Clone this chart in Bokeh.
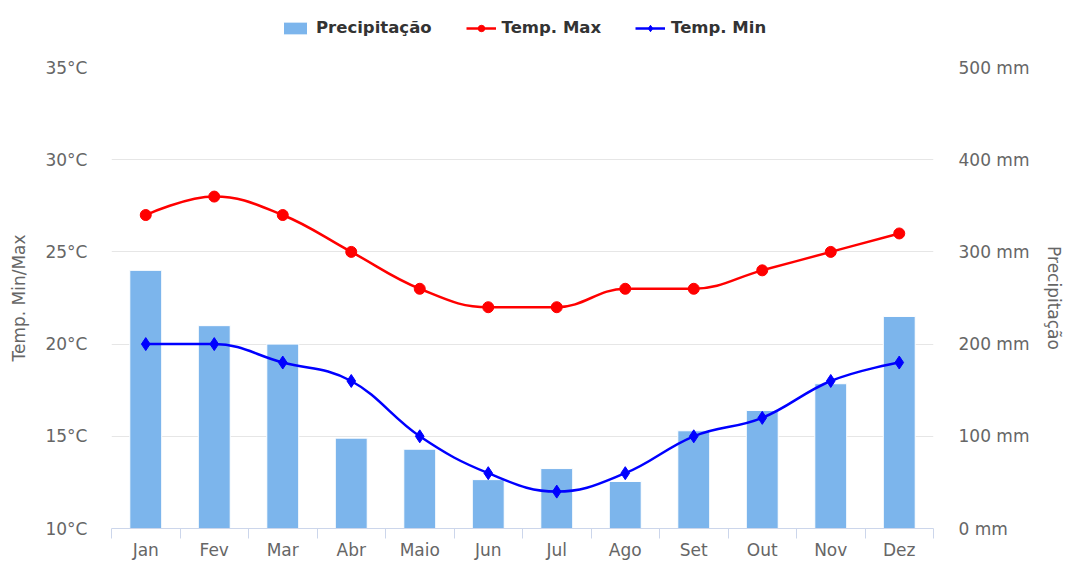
import numpy as np
from bokeh.plotting import figure
from bokeh.layouts import column
from bokeh.models import (Range1d, LinearAxis, FixedTicker, PrintfTickFormatter,
                          Legend, LegendItem, ColumnDataSource)
from bokeh.embed import file_html
from bokeh.resources import INLINE

months = ["Jan", "Fev", "Mar", "Abr", "Maio", "Jun", "Jul", "Ago", "Set", "Out", "Nov", "Dez"]
precip = [280, 220, 200, 98, 86, 53, 65, 51, 106, 128, 157, 230]
temp_max = [27, 28, 27, 25, 23, 22, 22, 23, 23, 24, 25, 26]
temp_min = [20, 20, 19, 18, 15, 13, 12, 13, 15, 16, 18, 19]
temp_ticks = [10, 15, 20, 25, 30, 35]
precip_ticks = [0, 100, 200, 300, 400, 500]

FONT = "DejaVu Sans"
TICK_SIZE = "17px"
BAR_COLOR = "#7cb5ec"
MAX_COLOR = "#ff0000"
MIN_COLOR = "#0000ff"
xs = list(range(len(months)))


def spline_segments(x, y, smoothing=1.5):
    n = len(x)
    lcx, lcy = list(map(float, x)), list(map(float, y))
    rcx, rcy = list(map(float, x)), list(map(float, y))
    d = smoothing + 1
    for i in range(1, n - 1):
        px, py, cx, cy, nx, ny = x[i - 1], y[i - 1], x[i], y[i], x[i + 1], y[i + 1]
        lx = (smoothing * cx + px) / d
        ly = (smoothing * cy + py) / d
        rx = (smoothing * cx + nx) / d
        ry = (smoothing * cy + ny) / d
        if rx != lx:
            corr = ((ry - ly) * (rx - cx)) / (rx - lx) + cy - ry
            ly += corr
            ry += corr
        if ly > py and ly > cy:
            ly = max(py, cy); ry = 2 * cy - ly
        elif ly < py and ly < cy:
            ly = min(py, cy); ry = 2 * cy - ly
        if ry > ny and ry > cy:
            ry = max(ny, cy); ly = 2 * cy - ry
        elif ry < ny and ry < cy:
            ry = min(ny, cy); ly = 2 * cy - ry
        lcx[i], lcy[i], rcx[i], rcy[i] = lx, ly, rx, ry
    return dict(x0=x[:-1], y0=y[:-1], x1=x[1:], y1=y[1:],
                cx0=rcx[:-1], cy0=rcy[:-1], cx1=lcx[1:], cy1=lcy[1:])


# ---------------- main chart ----------------
p = figure(width=1067, height=507, output_backend="svg", toolbar_location=None,
           x_range=Range1d(-0.5, len(months) - 0.5), y_range=Range1d(10, 35),
           min_border_left=111, min_border_right=132, min_border_top=12, min_border_bottom=33)
p.extra_y_ranges = {"precip": Range1d(0, 500)}
p.outline_line_color = None
p.background_fill_color = "white"
p.border_fill_color = "white"

# x axis
xa = p.xaxis[0]
xa.ticker = FixedTicker(ticks=xs, minor_ticks=[i - 0.5 for i in range(len(months) + 1)])
xa.major_label_overrides = {i: m for i, m in enumerate(months)}
xa.major_tick_line_color = None
xa.major_tick_out = 0
xa.major_tick_in = 0
xa.minor_tick_line_color = "#ccd6eb"
xa.minor_tick_in = 0
xa.minor_tick_out = 10
xa.axis_line_color = "#ccd6eb"
xa.major_label_text_font = FONT
xa.major_label_text_font_size = TICK_SIZE
xa.major_label_text_color = "#666666"
xa.major_label_standoff = 1
p.xgrid.grid_line_color = None

# left axis
ya = p.yaxis[0]
ya.ticker = FixedTicker(ticks=temp_ticks)
ya.formatter = PrintfTickFormatter(format="%d°C")
ya.axis_line_color = None
ya.major_tick_line_color = None
ya.major_tick_out = 0
ya.major_tick_in = 0
ya.minor_tick_line_color = None
ya.major_label_text_font = FONT
ya.major_label_text_font_size = TICK_SIZE
ya.major_label_text_color = "#666666"
ya.major_label_standoff = 24
ya.axis_label = "Temp. Min/Max"
ya.axis_label_text_font = FONT
ya.axis_label_text_font_size = TICK_SIZE
ya.axis_label_text_font_style = "normal"
ya.axis_label_text_color = "#666666"
ya.axis_label_standoff = 13
p.ygrid.ticker = FixedTicker(ticks=temp_ticks)
p.ygrid.grid_line_color = "#e6e6e6"

# right axis
ra = LinearAxis(y_range_name="precip", ticker=FixedTicker(ticks=precip_ticks),
                formatter=PrintfTickFormatter(format="%d mm"))
ra.axis_line_color = None
ra.major_tick_line_color = None
ra.major_tick_out = 0
ra.major_tick_in = 0
ra.minor_tick_line_color = None
ra.major_label_text_font = FONT
ra.major_label_text_font_size = TICK_SIZE
ra.major_label_text_color = "#666666"
ra.major_label_standoff = 25
ra.axis_label = "Precipitação"
ra.axis_label_text_font = FONT
ra.axis_label_text_font_size = TICK_SIZE
ra.axis_label_text_font_style = "normal"
ra.axis_label_text_color = "#666666"
ra.axis_label_standoff = 12
p.add_layout(ra, "right")

# bars
p.vbar(x=xs, top=precip, width=0.466, y_range_name="precip",
       fill_color=BAR_COLOR, line_color="white", line_width=1)

# smooth lines with markers
smax = ColumnDataSource(spline_segments(xs, temp_max))
smin = ColumnDataSource(spline_segments(xs, temp_min))
p.bezier(x0="x0", y0="y0", x1="x1", y1="y1", cx0="cx0", cy0="cy0", cx1="cx1", cy1="cy1",
         source=smax, line_color=MAX_COLOR, line_width=2.5)
p.scatter(x=xs, y=temp_max, marker="circle", size=11, fill_color=MAX_COLOR, line_color=MAX_COLOR)
p.bezier(x0="x0", y0="y0", x1="x1", y1="y1", cx0="cx0", cy0="cy0", cx1="cx1", cy1="cy1",
         source=smin, line_color=MIN_COLOR, line_width=2.5)
p.scatter(x=xs, y=temp_min, marker="diamond", size=13, fill_color=MIN_COLOR, line_color=MIN_COLOR)

# ---------------- legend strip ----------------
lg = figure(width=1067, height=55, output_backend="svg", toolbar_location=None,
            x_axis_location=None, y_axis_location=None,
            x_range=Range1d(-0.5, len(months) - 0.5), y_range=Range1d(10, 35),
            min_border_left=0, min_border_right=0, min_border_top=0, min_border_bottom=0)
lg.extra_y_ranges = {"precip": Range1d(0, 500)}
lg.grid.grid_line_color = None
lg.outline_line_color = None
lg.border_fill_color = "white"
lg.background_fill_color = "white"
k_bar = lg.vbar(x=xs, top=precip, width=0.466, y_range_name="precip",
                fill_color=BAR_COLOR, line_color="white", line_width=1, visible=False)
k_max_l = lg.line(x=xs, y=temp_max, line_color=MAX_COLOR, line_width=2.5, visible=False)
k_max_m = lg.scatter(x=xs, y=temp_max, marker="circle", size=11,
                     fill_color=MAX_COLOR, line_color=MAX_COLOR, visible=False)
k_min_l = lg.line(x=xs, y=temp_min, line_color=MIN_COLOR, line_width=2.5, visible=False)
k_min_m = lg.scatter(x=xs, y=temp_min, marker="diamond", size=13,
                     fill_color=MIN_COLOR, line_color=MIN_COLOR, visible=False)

legend = Legend(items=[LegendItem(label="Precipitação", renderers=[k_bar]),
                       LegendItem(label="Temp. Max", renderers=[k_max_l, k_max_m]),
                       LegendItem(label="Temp. Min", renderers=[k_min_l, k_min_m])],
                orientation="horizontal", location=(169, 18))
legend.label_text_font = FONT
legend.label_text_font_size = "16.5px"
legend.label_text_font_style = "bold"
legend.label_text_color = "#333333"
legend.border_line_color = None
legend.background_fill_alpha = 0
legend.glyph_width = 30
legend.glyph_height = 16
legend.spacing = 34
legend.label_standoff = 6
legend.padding = 10
legend.margin = 0
legend.click_policy = "none"
lg.add_layout(legend, "center")

layout = column(lg, p, spacing=0)
open("out.html", "w").write(file_html(layout, INLINE))
